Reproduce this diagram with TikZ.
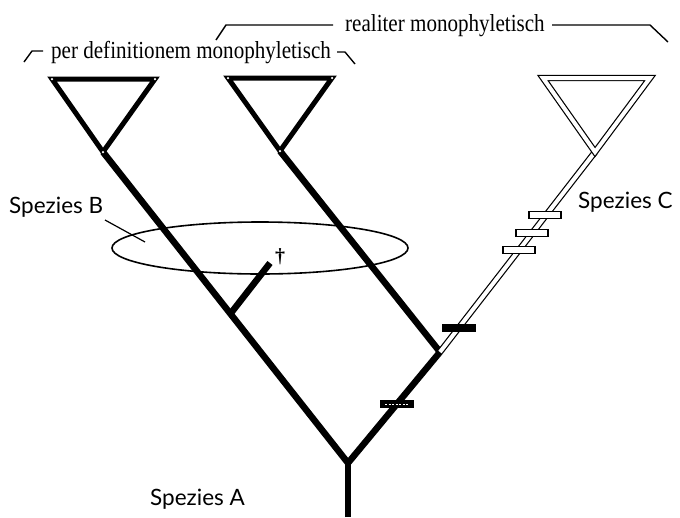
\documentclass[tikz,border=0pt]{standalone}
\usepackage{fontspec}
\setmainfont{Liberation Serif}
\newfontfamily\spez{Lato}
\begin{document}
\begin{tikzpicture}[x=1pt,y=-1pt,
  branch/.style={line width=6.5pt, line cap=butt},
  tri/.style={line width=5pt, line join=miter},
  hollow/.style={draw=black, line width=1.2pt, double=white, double distance=4pt, line join=miter},
  corner/.style={circle, fill=white, inner sep=0pt, minimum size=2.5pt},
  barbase/.style={rectangle, draw=black, line width=1.2pt, minimum width=32pt, minimum height=7pt, inner sep=0pt},
  whitebar/.style={barbase, fill=white},
  blackbar/.style={barbase, fill=black},
  spz/.style={font=\spez\fontsize{22.5}{24}\selectfont, inner sep=0pt, anchor=base west},
  toplab/.style={font=\fontsize{24.5}{26}\selectfont, inner sep=0pt, anchor=base west, xscale=0.86},
  brk/.style={line width=1.4pt},
  ring/.style={line width=1.6pt}]
\useasboundingbox (0,0) rectangle (680,517);
% key points
\coordinate (rootbot) at (348,517);
\coordinate (j1) at (348,463);
\coordinate (j2) at (440,352);
\coordinate (a1) at (103,152);
\coordinate (a2) at (280,151);
\coordinate (a3) at (595,152);
\coordinate (ej) at (231,313);
\coordinate (et) at (270,263);
% triangles
\coordinate (t1l) at (52,79); \coordinate (t1r) at (155,79);
\coordinate (t2l) at (228,78); \coordinate (t2r) at (332,78);
\coordinate (t3l) at (543,78); \coordinate (t3r) at (650,78);
% ellipse
\draw[ring] (260,248) ellipse [x radius=148, y radius=26];
% black branches
\draw[branch] (rootbot) -- (j1);
\draw[branch] (j1) -- (a1);
\draw[branch] (j1) -- (j2);
\draw[branch] (j2) -- (a2);
\draw[branch] (ej) -- (et);
\draw[tri] (a1) -- (t1l) -- (t1r) -- cycle;
\draw[tri] (a2) -- (t2l) -- (t2r) -- cycle;
\foreach \c in {t1l,t1r,a1,t2l,t2r,a2} \node[corner] at (\c) {};
% hollow branch and triangle
\draw[hollow] (j2) -- (a3);
\draw[hollow] (a3) -- (t3l) -- (t3r) -- cycle;
% marks
\node[blackbar] (m0) at (397,404) {};
\draw[white, line width=0.8pt, dash pattern=on 2pt off 1.5pt] (385,404) -- (409,404);
\node[blackbar] (m1) at (459,328) {};
\node[whitebar] (m2) at (545,215) {};
\node[whitebar] (m3) at (532,233) {};
\node[whitebar] (m4) at (519,250) {};
% dagger
\node[font=\fontsize{20}{22}\selectfont\bfseries, inner sep=0pt] (dag) at (280,257) {\textdagger};
% species labels
\node[spz] (spA) at (150,505) {Spezies A};
\node[spz] (spB) at (9,213) {Spezies B};
\node[spz] (spC) at (578,208) {Spezies C};
\coordinate (lb1) at (105,220);
\coordinate (lb2) at (145,242);
\draw[line width=1.2pt] (lb1) -- (lb2);
% top labels
\node[toplab] (pdm) at (51,58) {per definitionem monophyletisch};
\node[toplab] (rm) at (345,31) {realiter monophyletisch};
\coordinate (p1) at (24,62); \coordinate (p2) at (32,51); \coordinate (p3) at (43,51);
\coordinate (p4) at (337,52); \coordinate (p5) at (345,52); \coordinate (p6) at (355,64);
\draw[brk] (p1) -- (p2) -- (p3);
\draw[brk] (p4) -- (p5) -- (p6);
\coordinate (r1) at (216,40); \coordinate (r2) at (226,25); \coordinate (r3) at (333,25);
\coordinate (r4) at (552,25); \coordinate (r5) at (650,25); \coordinate (r6) at (668,42);
\draw[brk] (r1) -- (r2) -- (r3);
\draw[brk] (r4) -- (r5) -- (r6);
\end{tikzpicture}
\end{document}
